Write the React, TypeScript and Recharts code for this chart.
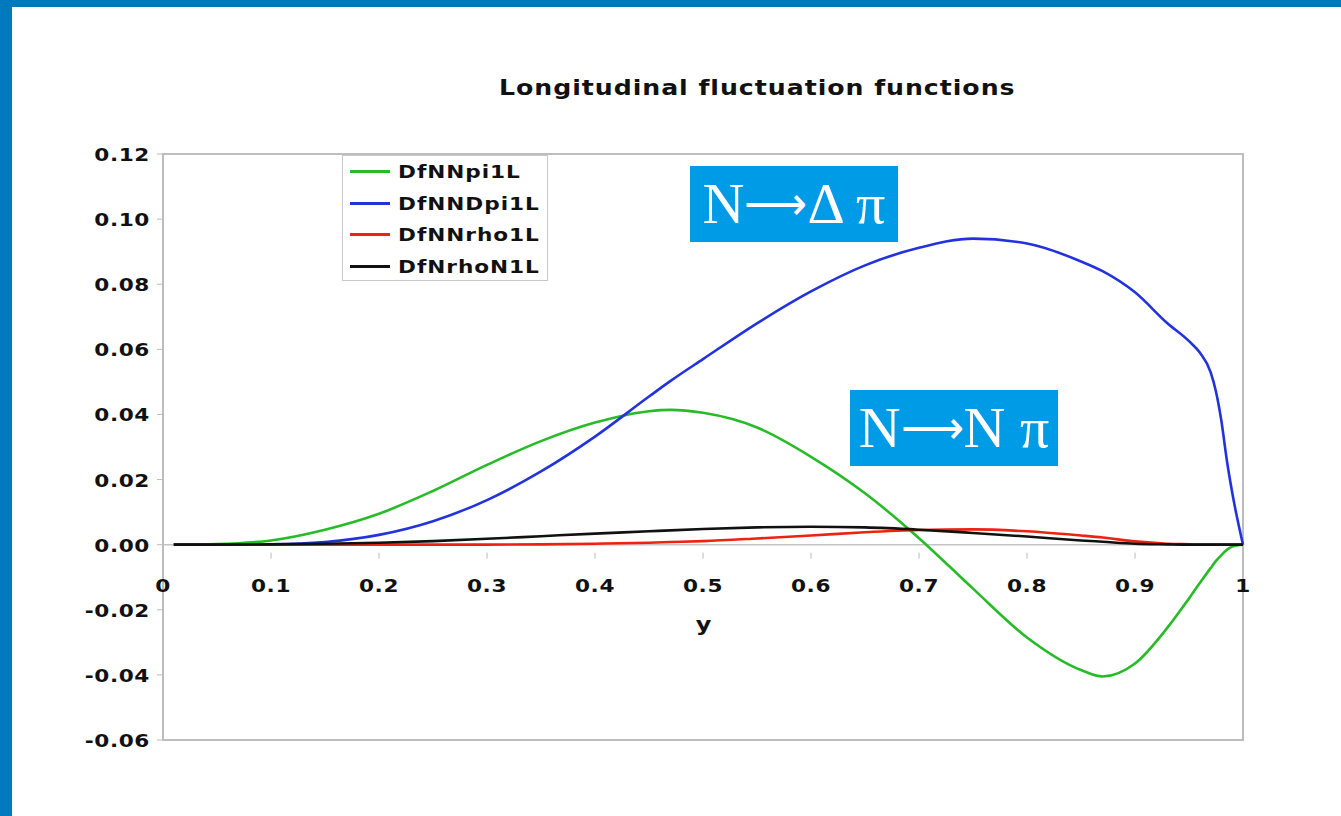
import React from 'react';
import { LineChart, Line, XAxis, YAxis, ReferenceLine, ReferenceArea } from 'recharts';

const yVals = [0.01, 0.05, 0.1, 0.15, 0.2, 0.25, 0.3, 0.35, 0.4, 0.45, 0.47, 0.5, 0.55, 0.6, 0.65, 0.7, 0.75, 0.8, 0.85, 0.87, 0.9, 0.93, 0.95, 0.96, 0.97, 0.975, 0.98, 0.985, 0.99, 1.0];

const nnPi = [0, 0.0002, 0.0013, 0.0046, 0.0095, 0.0165, 0.0245, 0.0318, 0.0375, 0.041, 0.0414, 0.0405, 0.036, 0.027, 0.0158, 0.002, -0.0135, -0.0285, -0.0385, -0.0405, -0.0365, -0.0255, -0.0165, -0.0118, -0.0072, -0.005, -0.0032, -0.0016, -0.0006, 0];
const nnDPi = [0, 0, 0.0001, 0.0008, 0.003, 0.0072, 0.0137, 0.0225, 0.0332, 0.0455, 0.0503, 0.057, 0.068, 0.0778, 0.0858, 0.0912, 0.094, 0.0925, 0.087, 0.084, 0.0775, 0.068, 0.0625, 0.059, 0.053, 0.047, 0.038, 0.026, 0.016, 0];
const nnRho = [0, 0, 0, 0, 0, 0, 0, 0.0001, 0.0003, 0.0006, 0.0008, 0.0011, 0.0019, 0.0028, 0.0038, 0.0045, 0.0047, 0.0041, 0.0028, 0.0022, 0.001, 0.0003, 0.0001, 0, 0, 0, 0, 0, 0, 0];
const nRhoN = [0, 0, 0.0001, 0.0003, 0.0006, 0.0011, 0.0018, 0.0026, 0.0034, 0.0041, 0.0044, 0.0048, 0.0053, 0.0055, 0.0053, 0.0046, 0.0036, 0.0025, 0.0013, 0.0009, 0.0003, 0.0001, 0, 0, 0, 0, 0, 0, 0, 0];

const xTicks = [0, 0.1, 0.2, 0.3, 0.4, 0.5, 0.6, 0.7, 0.8, 0.9, 1];
const yTicks = [-0.06, -0.04, -0.02, 0, 0.02, 0.04, 0.06, 0.08, 0.1, 0.12];

const series = [
  { key: 'DfNNpi1L', values: nnPi, color: '#27bb27' },
  { key: 'DfNNDpi1L', values: nnDPi, color: '#2233dd' },
  { key: 'DfNNrho1L', values: nnRho, color: '#ee2211' },
  { key: 'DfNrhoN1L', values: nRhoN, color: '#111111' },
];

const data = yVals.map((y, i) => {
  const row: Record<string, number> = { y };
  series.forEach((s) => { row[s.key] = s.values[i]; });
  return row;
});

const W = 1341;
const H = 816;
// plot box runs x 163..1243, y 154..740 (YAxis width 60, XAxis height 30 are added by recharts)
const margin = { top: 154, right: 98, bottom: 46, left: 103 };
const plotH = 740 - 154;
const yMin = -0.06;
const yMax = 0.12;
// distance from bottom of plot to the zero line
const zeroOffset = plotH * ((0 - yMin) / (yMax - yMin));

const boldFont = '"DejaVu Sans", Verdana, sans-serif';
const stretch = 1.2; // the original text is drawn wide

const XTick = (props: any) => {
  const { x, y, payload } = props;
  const y0 = y - zeroOffset;
  return (
    <g>
      <line x1={x} x2={x} y1={y0} y2={y0 + 6} stroke="#bbbbbb" strokeWidth={1} />
      <text transform={`translate(${x},${y0 + 39}) scale(${stretch},1)`} textAnchor="middle" fontFamily={boldFont} fontWeight="bold" fontSize={18} fill="#111" letterSpacing={0.5}>
        {String(payload.value)}
      </text>
    </g>
  );
};

const YTick = (props: any) => {
  const { x, y, payload } = props;
  return (
    <text transform={`translate(${x - 5},${y + 7}) scale(${stretch},1)`} textAnchor="end" fontFamily={boldFont} fontWeight="bold" fontSize={18} fill="#111" letterSpacing={0.5}>
      {payload.value.toFixed(2)}
    </text>
  );
};

const LegendBox = () => (
  <div style={{ position: 'absolute', left: 342, top: 155, width: 206, height: 126, border: '1px solid #c8c8c8', background: '#fff', boxSizing: 'border-box' }}>
    {series.map((s) => (
      <div key={s.key} style={{ display: 'flex', alignItems: 'center', height: 31.5 }}>
        <div style={{ width: 40, height: 3, background: s.color, marginLeft: 7, marginRight: 8 }} />
        <span style={{ display: 'inline-block', transform: `scaleX(${stretch})`, transformOrigin: 'left center', fontFamily: boldFont, fontWeight: 'bold', fontSize: 18, color: '#111', letterSpacing: 0.8, whiteSpace: 'nowrap' }}>{s.key}</span>
      </div>
    ))}
  </div>
);

const Badge = ({ left, top, text }: { left: number; top: number; text: [string, string] }) => (
  <div style={{ position: 'absolute', left, top, width: 208, height: 76, background: '#009be6', color: '#fff', fontFamily: '"Liberation Serif", "Times New Roman", serif', fontSize: 58, lineHeight: '76px', textAlign: 'center', whiteSpace: 'nowrap' }}>
    N<span style={{ fontSize: 44, verticalAlign: '4px' }}>{'\u27F6'}</span>{text[0]}
    {' '}{text[1]}
  </div>
);

export default function App() {
  return (
    <div style={{ position: 'absolute', left: 0, top: 0, width: W, height: H, background: '#0079be', overflow: 'hidden' }}>
      <div style={{ position: 'absolute', left: 12, top: 7, right: 0, bottom: 0, background: '#fff' }} />
      <div style={{ position: 'absolute', left: 0, top: 0, width: W, height: H }}>
        <LineChart width={W} height={H} data={data} margin={margin}>
          <ReferenceArea x1={0} x2={1} y1={yMin} y2={yMax} fill="none" stroke="#bdbdbd" strokeWidth={2} ifOverflow="visible" />
          <XAxis dataKey="y" type="number" domain={[0, 1]} ticks={xTicks} axisLine={false} tickLine={false} tick={<XTick />} interval={0} height={30} />
          <YAxis type="number" domain={[yMin, yMax]} ticks={yTicks} axisLine={{ stroke: '#bdbdbd', strokeWidth: 2 }} tickLine={{ stroke: '#bdbdbd' }} tickSize={6} tick={<YTick />} interval={0} width={60} />
          <ReferenceLine y={0} stroke="#c4c4c4" strokeWidth={1.5} />
          {series.map((s) => (
            <Line key={s.key} type="monotone" dataKey={s.key} stroke={s.color} strokeWidth={2.6} dot={false} isAnimationActive={false} />
          ))}
        </LineChart>
      </div>
      <div style={{ position: 'absolute', left: 163, width: 1188, top: 76, textAlign: 'center' }}>
        <span style={{ display: 'inline-block', transform: `scaleX(${stretch})`, fontFamily: boldFont, fontWeight: 'bold', fontSize: 21, letterSpacing: 0.8, color: '#111', whiteSpace: 'nowrap' }}>
          Longitudinal fluctuation functions
        </span>
      </div>
      <div style={{ position: 'absolute', left: 697, top: 612, fontFamily: boldFont, fontWeight: 'bold', fontSize: 20, color: '#111', transform: `scaleX(${stretch})` }}>y</div>
      <LegendBox />
      <Badge left={690} top={166} text={['\u0394', '\u03C0']} />
      <Badge left={850} top={390} text={['N', '\u03C0']} />
    </div>
  );
}
